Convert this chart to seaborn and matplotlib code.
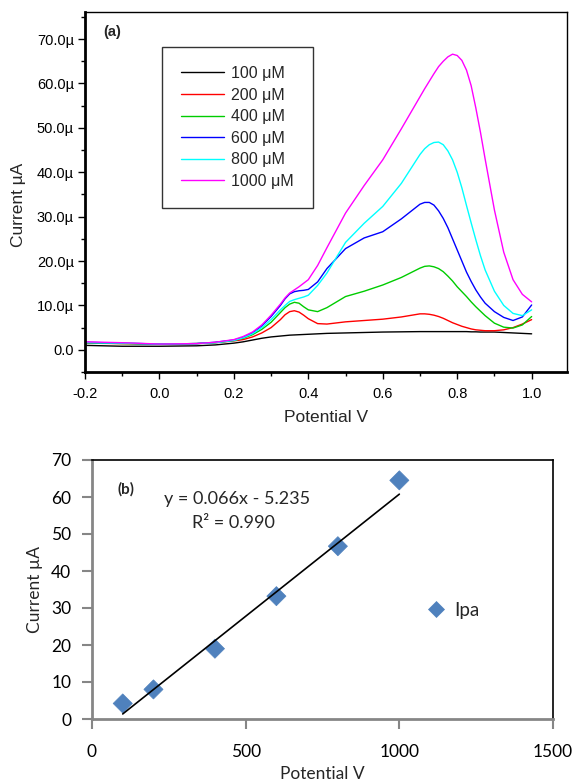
import numpy as np
import pandas as pd
import matplotlib
matplotlib.use("Agg")
import matplotlib.pyplot as plt
import seaborn as sns
from matplotlib.ticker import MultipleLocator, FixedLocator, FixedFormatter

# ---------------- data: panel (a) ----------------
potential = [-0.2, -0.1, 0.0, 0.1, 0.15,
             0.2, 0.225, 0.25, 0.275, 0.3,
             0.325, 0.3375, 0.35, 0.3625, 0.375,
             0.3875, 0.4, 0.425, 0.45, 0.5,
             0.55, 0.6, 0.65, 0.7, 0.7125,
             0.725, 0.7375, 0.75, 0.7625, 0.775,
             0.7875, 0.8, 0.8125, 0.825, 0.8375,
             0.85, 0.8625, 0.875, 0.9, 0.925,
             0.95, 0.975, 1.0]

c100 = [1.0, 0.8, 0.8, 0.9, 1.1,
        1.5, 1.8, 2.2, 2.6, 2.9,
        3.1, 3.2, 3.3, 3.35, 3.4,
        3.45, 3.5, 3.6, 3.7, 3.8,
        3.9, 4.0, 4.05, 4.1, 4.1,
        4.1, 4.1, 4.1, 4.1, 4.1,
        4.1, 4.1, 4.1, 4.1, 4.05,
        4.05, 4.0, 4.0, 4.0, 3.9,
        3.8, 3.7, 3.6]
c200 = [1.5, 1.4, 1.3, 1.4, 1.6,
        2.0, 2.3, 2.9, 3.8, 5.0,
        6.8, 7.9, 8.6, 8.8, 8.5,
        7.8, 7.0, 5.9, 5.8, 6.3,
        6.6, 6.9, 7.4, 8.1, 8.1,
        8.0, 7.8, 7.5, 7.1, 6.6,
        6.1, 5.7, 5.3, 5.0, 4.7,
        4.5, 4.4, 4.3, 4.3, 4.5,
        5.0, 5.8, 6.8]
c400 = [1.6, 1.4, 1.3, 1.4, 1.6,
        2.1, 2.6, 3.4, 4.6, 6.2,
        8.4, 9.5, 10.3, 10.7, 10.5,
        9.7, 9.0, 8.6, 9.5, 12.0,
        13.2, 14.6, 16.3, 18.4, 18.8,
        18.9, 18.7, 18.3, 17.6, 16.6,
        15.5, 14.2, 13.1, 12.0, 10.8,
        9.7, 8.7, 7.7, 6.0, 5.1,
        4.9, 5.6, 7.5]
c600 = [1.7, 1.5, 1.3, 1.4, 1.7,
        2.2, 2.8, 3.8, 5.4, 7.5,
        10.0, 11.5, 12.6, 13.1, 13.3,
        13.4, 13.6, 15.3, 18.3, 22.8,
        25.2, 26.6, 29.5, 32.8, 33.2,
        33.2, 32.6, 31.3, 29.6, 27.5,
        25.0, 22.5, 20.0, 17.5, 15.4,
        13.5, 11.9, 10.5, 8.6, 7.3,
        6.6, 7.4, 10.1]
c800 = [1.6, 1.5, 1.3, 1.4, 1.6,
        2.1, 2.7, 3.6, 5.0, 6.8,
        9.0, 10.0, 10.9, 11.3, 11.6,
        11.9, 12.3, 14.5, 17.3, 24.2,
        28.5, 32.3, 37.5, 44.0, 45.3,
        46.2, 46.7, 46.8, 46.2, 44.8,
        42.8, 40.0, 36.5, 32.5, 28.6,
        24.8, 21.2, 18.0, 13.2, 10.0,
        8.2, 7.7, 9.0]
c1000 = [1.8, 1.6, 1.3, 1.4, 1.7,
         2.3, 3.0, 4.0, 5.6, 7.8,
         10.3, 11.7, 12.8, 13.5, 14.2,
         15.0, 15.8, 19.0, 23.0, 30.8,
         37.0, 42.8, 49.8, 57.0, 58.8,
         60.5, 62.2, 63.8, 65.0, 66.0,
         66.6, 66.3, 65.2, 63.0, 59.5,
         54.5, 49.0, 43.0, 31.5, 22.0,
         15.8, 12.5, 10.8]

conc_labels = ["100 μM", "200 μM", "400 μM", "600 μM", "800 μM", "1000 μM"]
conc_colors = ["#000000", "#ff0000", "#00cc00", "#0000ff", "#00ffff", "#ff00ff"]

yticks_a = [0, 10, 20, 30, 40, 50, 60, 70]
ytick_labels_a = ["0.0", "10.0µ", "20.0µ", "30.0µ", "40.0µ", "50.0µ", "60.0µ", "70.0µ"]
xticks_a = [-0.2, 0.0, 0.2, 0.4, 0.6, 0.8, 1.0]

# ---------------- data: panel (b) ----------------
conc = [100, 200, 400, 600, 800, 1000]
ipa = [4.2, 8.0, 19.0, 33.2, 46.7, 64.5]
fit_slope = 0.066
fit_intercept = -5.235
fit_r2 = 0.990

# ---------------- figure ----------------
sns.set_theme(style="white")
plt.rcParams['font.family'] = ['Liberation Sans', 'DejaVu Sans']

fig = plt.figure(figsize=(5.77, 7.79), dpi=100)
W, H = 577, 779
def rect(l, t, r, b):
    return [l / W, 1 - b / H, (r - l) / W, (b - t) / H]

# ---- panel (a) ----
ax1 = fig.add_axes(rect(85, 12, 567, 372))
series = [c100, c200, c400, c600, c800, c1000]
df = pd.concat([pd.DataFrame({"Potential": potential, "Current": s, "Conc": lab})
                for s, lab in zip(series, conc_labels)], ignore_index=True)
sns.lineplot(data=df, x="Potential", y="Current", hue="Conc", hue_order=conc_labels,
             palette=conc_colors, linewidth=1.0, ax=ax1, sort=False)

ax1.set_xlim(-0.2, 1.095)
ax1.set_ylim(-5, 76.1)
ax1.xaxis.set_major_locator(FixedLocator(xticks_a))
ax1.set_xticklabels([f"{v:.1f}" for v in xticks_a])
ax1.xaxis.set_minor_locator(MultipleLocator(0.1))
ax1.yaxis.set_major_locator(FixedLocator(yticks_a))
ax1.yaxis.set_major_formatter(FixedFormatter(ytick_labels_a))
ax1.yaxis.set_minor_locator(MultipleLocator(5))
ax1.tick_params(axis='both', which='major', direction='out', length=5, width=1.0,
                labelsize=10.5, colors='black', pad=3)
ax1.tick_params(axis='x', which='major', pad=6)
ax1.tick_params(axis='both', which='minor', direction='out', length=3, width=1.0, colors='black')
ax1.tick_params(bottom=True, left=True, which='both')
for s in ['left', 'bottom']:
    ax1.spines[s].set_linewidth(2.0)
    ax1.spines[s].set_color('black')
for s in ['top', 'right']:
    ax1.spines[s].set_linewidth(1.0)
    ax1.spines[s].set_color('black')
ax1.set_xlabel("Potential V", fontsize=12.5, labelpad=6)
ax1.set_ylabel("Current µA", fontsize=12.5)
ax1.yaxis.set_label_coords(-0.122, 0.465)
ax1.text(0.037, 0.945, "(a)", transform=ax1.transAxes, fontsize=10.5, fontweight='bold',
         ha='left', va='center')
leg = ax1.legend(loc='upper left', bbox_to_anchor=(0.160, 0.903), frameon=True,
                 fancybox=False, shadow=False, fontsize=11.5, handlelength=2.7,
                 handletextpad=0.4, labelspacing=0.41, borderpad=1.2,
                 borderaxespad=0, title=None)
leg.get_frame().set_edgecolor('black')
leg.get_frame().set_linewidth(1.0)
for line in leg.get_lines():
    line.set_linewidth(1.0)

# ---- panel (b) ----
ax2 = fig.add_axes(rect(92, 460, 553, 719))
dfb = pd.DataFrame({"conc": conc, "ipa": ipa, "series": "Ipa"})
sns.scatterplot(data=dfb, x="conc", y="ipa", hue="series", palette=["#4f81bd"],
                marker='D', s=95, edgecolor='#4f81bd', linewidth=0.5, ax=ax2, zorder=3)
xfit = np.array([conc[0], conc[-1]])
yfit = fit_slope * xfit + fit_intercept
ax2.plot(xfit, yfit, color='black', linewidth=1.2, zorder=4)

ax2.set_xlim(0, 1500)
ax2.set_ylim(0, 70)
ax2.xaxis.set_major_locator(MultipleLocator(500))
ax2.yaxis.set_major_locator(MultipleLocator(10))
bfont = ['Lato', 'DejaVu Sans']
ax2.tick_params(axis='both', which='major', direction='out', length=7, width=1.5,
                color='#868686', labelcolor='black', labelsize=12.5)
ax2.tick_params(axis='x', pad=11)
ax2.tick_params(axis='y', pad=8)
ax2.tick_params(bottom=True, left=True)
for lab in ax2.get_xticklabels() + ax2.get_yticklabels():
    lab.set_family(bfont)
for s in ['left', 'bottom']:
    ax2.spines[s].set_linewidth(2.0)
    ax2.spines[s].set_color('#868686')
for s in ['top', 'right']:
    ax2.spines[s].set_linewidth(1.2)
    ax2.spines[s].set_color('black')
ax2.set_xlabel("Potential V", fontsize=12.5, family=bfont, labelpad=4)
ax2.set_ylabel("Current µA", fontsize=12.5, family=bfont, labelpad=6)
ax2.text(0.055, 0.885, "(b)", transform=ax2.transAxes, fontsize=11, fontweight='bold',
         family=bfont, ha='left', va='center')
ax2.text(0.315, 0.85, f"y = {fit_slope:.3f}x - {abs(fit_intercept):.3f}",
         transform=ax2.transAxes, fontsize=13, family=bfont, ha='center', va='center')
ax2.text(0.307, 0.755, f"R² = {fit_r2:.3f}", transform=ax2.transAxes, fontsize=13,
         family=bfont, ha='center', va='center')
leg2 = ax2.legend(loc='center left', bbox_to_anchor=(0.668, 0.42), frameon=False,
                  handletextpad=0.0, markerscale=0.8,
                  prop={'family': bfont, 'size': 13.5})

fig.savefig("out.png", dpi=100)
